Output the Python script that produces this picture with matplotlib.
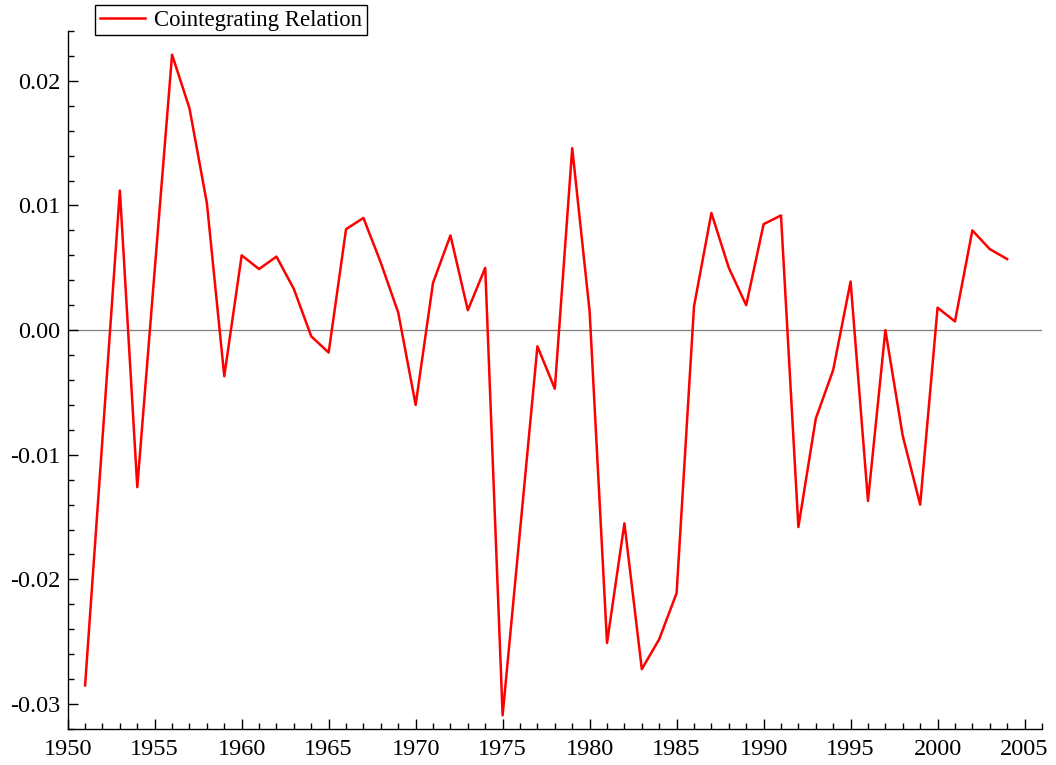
import matplotlib.pyplot as plt
from matplotlib.ticker import MultipleLocator, FormatStrFormatter

# Annual values of the cointegrating relation
years = list(range(1951, 2005))
relation = [
    -0.0285, -0.0087, 0.0112, -0.0126, 0.0048, 0.0221, 0.0178, 0.0102, -0.0037, 0.0060,
    0.0049, 0.0059, 0.0033, -0.0005, -0.0018, 0.0081, 0.0090, 0.0054, 0.0014, -0.0060,
    0.0038, 0.0076, 0.0016, 0.0050, -0.0309, -0.0161, -0.0013, -0.0047, 0.0146, 0.0015,
    -0.0251, -0.0155, -0.0272, -0.0248, -0.0211, 0.0019, 0.0094, 0.0050, 0.0020, 0.0085,
    0.0092, -0.0158, -0.0071, -0.0032, 0.0039, -0.0137, 0.0000, -0.0085, -0.0140, 0.0018,
    0.0007, 0.0080, 0.0065, 0.0057,
]

plt.rcParams["font.family"] = ["Liberation Serif", "DejaVu Serif"]
plt.rcParams["axes.unicode_minus"] = False

fig = plt.figure(figsize=(10.56, 7.65), dpi=100)
ax = fig.add_axes([0.0641, 0.0471, 0.9226, 0.9124])

ax.axhline(0, color="#808080", lw=0.9, zorder=1)
ax.plot(years, relation, color="red", lw=1.8, label="Cointegrating Relation", zorder=2)

ax.set_xlim(1950, 2006)
ax.set_ylim(-0.032, 0.024)

ax.xaxis.set_major_locator(MultipleLocator(5))
ax.xaxis.set_minor_locator(MultipleLocator(1))
ax.yaxis.set_major_locator(MultipleLocator(0.01))
ax.yaxis.set_minor_locator(MultipleLocator(0.002))
ax.yaxis.set_major_formatter(FormatStrFormatter("%.2f"))

for side in ["top", "right"]:
    ax.spines[side].set_visible(False)
for side in ["left", "bottom"]:
    ax.spines[side].set_linewidth(1.0)

ax.tick_params(which="both", direction="in", labelsize=17.5, width=1.0)
ax.tick_params(which="major", length=7)
ax.tick_params(which="minor", length=4)
ax.tick_params(axis="y", pad=5)
ax.tick_params(axis="x", pad=7)

leg = fig.legend(loc="upper left", bbox_to_anchor=(95 / 1056, 1 - 5 / 765),
                 fontsize=16.4, fancybox=False, framealpha=1, edgecolor="black",
                 borderaxespad=0, borderpad=0.2, handlelength=2.0, handletextpad=0.4)
leg.get_frame().set_linewidth(1.0)

fig.savefig("out.png", dpi=100)
